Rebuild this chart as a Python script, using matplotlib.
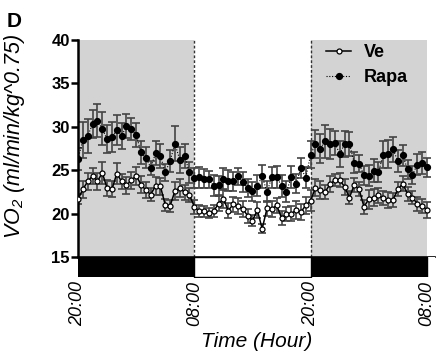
import numpy as np
import matplotlib
matplotlib.use('Agg')
import matplotlib.pyplot as plt
from matplotlib.lines import Line2D

plt.rcParams['font.family'] = 'Liberation Sans'
plt.rcParams['mathtext.fontset'] = 'custom'
plt.rcParams['mathtext.rm'] = 'Liberation Sans:italic'
plt.rcParams['mathtext.it'] = 'Liberation Sans:italic'

# VO2 medido a cada 30 min, 36 h a partir das 20:00 (media e EPM)
step_h = 0.5
ve_mean = [
    21.65, 22.8, 23.7, 24.35, 23.7, 24.7, 22.95, 22.8, 24.6, 23.7, 23.25, 23.85,
    24.35, 23.35, 22.7, 22.2, 23.2, 23.15, 21.0, 20.9, 22.6, 22.95, 22.45, 22.15,
    20.8, 20.3, 20.25, 20.1, 20.3, 21.15, 21.7, 20.35, 21.05, 20.9, 20.55, 19.75,
    19.2, 20.4, 18.25, 20.6, 20.55, 20.95, 19.5, 19.95, 20.0, 20.4, 20.2, 20.95,
    21.5, 23.0, 22.7, 22.5, 23.4, 23.85, 23.85, 23.1, 21.85, 23.3, 22.8, 20.8,
    21.65, 21.85, 22.1, 21.75, 21.55, 21.6, 22.8, 23.45, 22.25, 21.85, 21.15, 20.9, 20.45]
ve_sem = [
    0.6, 1.0, 1.0, 0.9, 1.0, 1.3, 0.9, 0.9, 1.2, 0.9, 1.0, 1.0,
    1.0, 1.0, 0.9, 0.8, 1.0, 1.0, 0.7, 0.7, 1.0, 1.0, 0.9, 0.8,
    0.8, 0.7, 0.6, 0.6, 0.7, 0.9, 1.0, 0.9, 0.9, 0.9, 0.9, 0.8,
    0.6, 0.9, 0.5, 0.9, 0.9, 0.9, 0.8, 0.8, 0.9, 1.0, 0.9, 1.0,
    1.2, 1.0, 1.0, 0.8, 0.9, 0.7, 0.8, 0.9, 0.8, 0.8, 0.8, 0.8,
    1.1, 1.0, 0.9, 0.8, 0.9, 0.8, 0.8, 0.9, 0.8, 0.8, 0.8, 0.8, 0.9]
rapa_mean = [
    26.3, 28.45, 28.95, 30.3, 30.7, 29.8, 28.55, 28.8, 29.65, 28.95, 30.1, 29.75,
    29.05, 27.05, 26.45, 25.3, 26.95, 26.65, 24.75, 26.05, 28.05, 26.2, 26.6, 24.75,
    24.1, 24.2, 24.0, 23.95, 23.2, 23.25, 24.0, 23.8, 23.75, 24.3, 23.65, 22.95,
    22.55, 23.2, 24.3, 22.5, 24.2, 24.2, 23.2, 22.5, 24.2, 23.45, 25.25, 24.15,
    26.8, 28.0, 27.5, 28.35, 28.0, 28.1, 26.9, 28.0, 28.05, 25.85, 25.75, 24.4,
    24.35, 24.95, 24.8, 26.8, 26.9, 27.4, 26.05, 26.7, 25.1, 24.45, 25.65, 25.85, 25.35]
rapa_sem = [
    1.3, 2.1, 2.0, 1.6, 1.9, 1.9, 1.6, 1.7, 1.7, 1.5, 1.4, 1.3,
    1.4, 1.3, 1.2, 0.8, 1.4, 1.4, 1.0, 1.3, 2.0, 1.5, 1.4, 1.2,
    1.1, 1.2, 1.1, 1.0, 1.2, 1.1, 1.2, 1.2, 1.1, 1.0, 1.2, 1.0,
    1.1, 1.2, 1.3, 1.2, 1.2, 1.3, 1.3, 1.2, 1.3, 1.1, 1.2, 1.2,
    1.6, 1.6, 1.7, 1.9, 1.7, 1.4, 1.5, 1.5, 1.4, 1.2, 1.0, 1.1,
    1.2, 1.3, 1.2, 1.6, 1.6, 1.4, 1.3, 1.2, 1.1, 1.0, 1.2, 1.3, 1.1]

# fases escuro/claro (inicio, duracao) em horas
dark_phases = [(0, 12), (24, 12)]
light_phases = [(12, 12)]
tick_hours = [0, 12, 24, 36]
tick_labels = ['20:00', '08:00', '20:00', '08:00']

t = np.arange(len(ve_mean)) * step_h
W, H = 441, 356
fig = plt.figure(figsize=(W / 100, H / 100), dpi=100)

# eixo principal (pixels: x 78-435, y 40-257)
ax = fig.add_axes([78 / W, 1 - 257 / H, (435 - 78) / W, (257 - 40) / H])
# barra claro/escuro logo abaixo
axb = fig.add_axes([78 / W, 1 - 277 / H, (435 - 78) / W, 20 / H], sharex=ax)

for start, dur in dark_phases:
    ax.axvspan(start, start + dur, color='#d3d3d3', lw=0, zorder=0)
for x in [12, 24]:
    ax.axvline(x, color='#333333', lw=1, ls=(0, (2, 1.5)), zorder=1)

ax.errorbar(t, rapa_mean, yerr=rapa_sem, fmt='none', ecolor='#444444',
            elinewidth=1.2, capsize=2.6, capthick=1.2, zorder=2)
ax.errorbar(t, ve_mean, yerr=ve_sem, fmt='none', ecolor='#444444',
            elinewidth=1.2, capsize=2.6, capthick=1.2, zorder=2)
ax.plot(t, rapa_mean, ls=(0, (1, 1.5)), lw=0.8, color='black', marker='o',
        ms=4.2, mfc='black', mec='black', zorder=3)
ax.plot(t, ve_mean, ls='-', lw=1.1, color='black', marker='o',
        ms=3.6, mfc='white', mec='black', mew=0.9, zorder=3)

ax.set_xlim(0, 36.83)
ax.set_ylim(15, 40)
ax.set_yticks([15, 20, 25, 30, 35, 40])
ax.tick_params(axis='y', labelsize=12, width=1.8, length=5, pad=1)
for lab in ax.get_yticklabels():
    lab.set_fontweight('bold')
ax.tick_params(axis='x', bottom=False, labelbottom=False)
for s in ['top', 'right']:
    ax.spines[s].set_visible(False)
ax.spines['left'].set_linewidth(1.8)
ax.spines['bottom'].set_linewidth(1.2)
ax.set_ylabel('VO$_2$ (ml/min/kg^0.75)', fontsize=15.5, fontstyle='italic')
ax.yaxis.set_label_coords(-0.143, 0.555)

handles = [
    Line2D([], [], ls='-', lw=1.1, color='black', marker='o', ms=3.6,
           mfc='white', mec='black', mew=0.9),
    Line2D([], [], ls=(0, (1, 1.5)), lw=0.8, color='black', marker='o',
           ms=4.2, mfc='black'),
]
ax.legend(handles, ['Ve', 'Rapa'], loc='upper left', frameon=False,
          bbox_to_anchor=(326 / W, 1 - 44 / H), bbox_transform=fig.transFigure,
          borderpad=0, borderaxespad=0, handlelength=1.4, handletextpad=0.7,
          labelspacing=0.45, prop={'weight': 'bold', 'size': 13})

axb.broken_barh(dark_phases, (0, 1), facecolors='black', edgecolor='black', lw=1)
axb.broken_barh(light_phases, (0, 1), facecolors='white', edgecolor='black', lw=1)
axb.set_ylim(0, 1)
axb.set_yticks([])
for s in axb.spines.values():
    s.set_visible(False)
axb.set_xticks(tick_hours)
axb.set_xticklabels(tick_labels, rotation=90, fontsize=13, fontstyle='italic')
axb.tick_params(axis='x', length=0, pad=3)
axb.set_xlabel('Time (Hour)', fontsize=15, fontstyle='italic', labelpad=4)

fig.text(7 / W, 1 - 12 / H, 'D', fontsize=15, fontweight='bold', va='top')

fig.savefig('out.png', dpi=100)
